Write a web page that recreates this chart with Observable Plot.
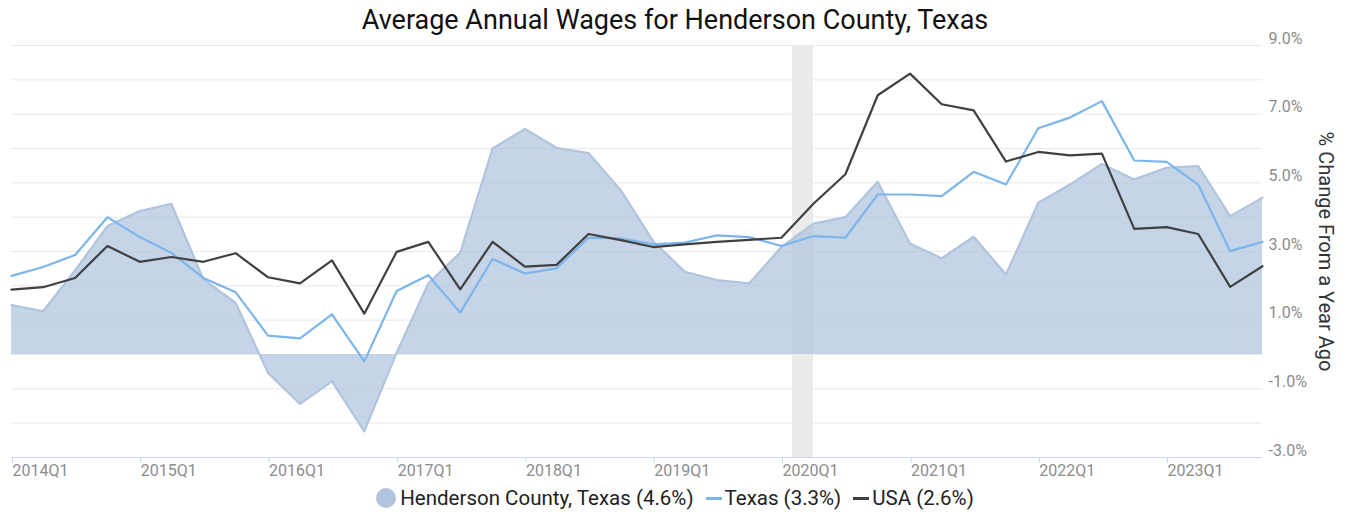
<!DOCTYPE html>
<html>
<head>
<meta charset="utf-8">
<script src="https://cdn.jsdelivr.net/npm/d3@7"></script>
<script src="https://cdn.jsdelivr.net/npm/@observablehq/plot@0.6"></script>
<style>
  html, body { margin: 0; padding: 0; background: #fff; }
  body { width: 1350px; height: 516px; overflow: hidden; font-family: Roboto, "Noto Sans", sans-serif; }
  #title { height: 40px; line-height: 40px; text-align: center; font-size: 27px; color: #111; }
  #chart { height: 440px; }
  #legend { height: 36px; display: flex; justify-content: center; align-items: center; font-size: 20.5px; color: #222; }
  .item { display: flex; align-items: center; margin: 0 6px; }
  .dot { width: 20px; height: 20px; border-radius: 50%; margin-right: 4px; }
  .ln { width: 16px; height: 3px; margin-right: 3px; }
</style>
</head>
<body>
<div id="title">Average Annual Wages for Henderson County, Texas</div>
<div id="chart"></div>
<div id="legend"></div>
<script>
// ---- data ----
const quarters = [
  "2014Q1","2014Q2","2014Q3","2014Q4","2015Q1","2015Q2","2015Q3","2015Q4",
  "2016Q1","2016Q2","2016Q3","2016Q4","2017Q1","2017Q2","2017Q3","2017Q4",
  "2018Q1","2018Q2","2018Q3","2018Q4","2019Q1","2019Q2","2019Q3","2019Q4",
  "2020Q1","2020Q2","2020Q3","2020Q4","2021Q1","2021Q2","2021Q3","2021Q4",
  "2022Q1","2022Q2","2022Q3","2022Q4","2023Q1","2023Q2","2023Q3","2023Q4"
];
const henderson = [
  1.44, 1.26, 2.45, 3.74, 4.18, 4.39, 2.19, 1.50,
  -0.54, -1.44, -0.78, -2.24, 0.05, 2.07, 2.97, 6.00,
  6.57, 6.02, 5.87, 4.78, 3.30, 2.41, 2.17, 2.07,
  3.13, 3.81, 4.00, 5.03, 3.23, 2.80, 3.43, 2.33,
  4.42, 4.95, 5.55, 5.10, 5.44, 5.49, 4.03, 4.57
];
const texas = [
  2.29, 2.55, 2.90, 4.00, 3.42, 2.96, 2.23, 1.81,
  0.55, 0.47, 1.17, -0.20, 1.85, 2.31, 1.22, 2.78,
  2.36, 2.51, 3.40, 3.38, 3.21, 3.26, 3.47, 3.42,
  3.16, 3.45, 3.40, 4.66, 4.66, 4.61, 5.32, 4.95,
  6.59, 6.90, 7.38, 5.65, 5.61, 4.95, 3.01, 3.28
];
const usa = [
  1.89, 1.96, 2.23, 3.16, 2.70, 2.84, 2.70, 2.95,
  2.25, 2.07, 2.74, 1.19, 2.99, 3.28, 1.90, 3.28,
  2.56, 2.61, 3.51, 3.33, 3.13, 3.21, 3.28, 3.34,
  3.40, 4.39, 5.25, 7.55, 8.18, 7.29, 7.11, 5.62,
  5.90, 5.80, 5.85, 3.66, 3.71, 3.51, 1.97, 2.57
];
const xTickLabels = ["2014Q1","2015Q1","2016Q1","2017Q1","2018Q1","2019Q1","2020Q1","2021Q1","2022Q1","2023Q1"];
const yTickValues = [-3, -1, 1, 3, 5, 7, 9];
const yGridValues = [-2, -1, 0, 1, 2, 3, 4, 5, 6, 7, 8, 9];
const recessions = [{start: "2020-02-01", end: "2020-04-01"}];
const seriesNames = ["Henderson County, Texas", "Texas", "USA"];
const seriesColors = ["#b0c4de", "#7cb5ec", "#404040"];
const yAxisTitle = "% Change From a Year Ago";

// ---- build ----
const qDate = q => new Date(Date.UTC(+q.slice(0, 4), (+q.slice(5) - 1) * 3, 1));
const rows = quarters.map((q, i) => ({date: qDate(q), henderson: henderson[i], texas: texas[i], usa: usa[i]}));
const recRows = recessions.map(r => ({start: new Date(r.start + "T00:00:00Z"), end: new Date(r.end + "T00:00:00Z")}));
const fmtQ = d => d.getUTCFullYear() + "Q" + (Math.floor(d.getUTCMonth() / 3) + 1);

const chart = Plot.plot({
  width: 1350,
  height: 440,
  marginLeft: 11,
  marginRight: 88,
  marginTop: 5,
  marginBottom: 23,
  style: {fontFamily: "Roboto, 'Noto Sans', sans-serif", fontSize: "16px", background: "#fff", overflow: "visible"},
  x: {type: "utc", domain: [qDate(quarters[0]), qDate(quarters[quarters.length - 1])]},
  y: {domain: [yTickValues[0], yTickValues[yTickValues.length - 1]]},
  marks: [
    Plot.gridY(yGridValues, {stroke: "#e9e9e9", strokeOpacity: 1}),
    Plot.rect(recRows, {x1: "start", x2: "end", y1: () => yTickValues[0], y2: () => yTickValues[yTickValues.length - 1], fill: "#ebebeb"}),
    Plot.areaY(rows, {x: "date", y: "henderson", fill: seriesColors[0], fillOpacity: 0.72}),
    Plot.lineY(rows, {x: "date", y: "henderson", stroke: seriesColors[0], strokeWidth: 2.2}),
    Plot.lineY(rows, {x: "date", y: "texas", stroke: seriesColors[1], strokeWidth: 2.2}),
    Plot.lineY(rows, {x: "date", y: "usa", stroke: seriesColors[2], strokeWidth: 2.2}),
    Plot.ruleY([yTickValues[0]], {stroke: "#ccd6eb"}),
    Plot.axisX(xTickLabels.map(qDate), {tickSize: 6, tickPadding: 1, stroke: "#ccd6eb", fill: "#8c8c8c", textAnchor: "start", dx: 1, tickFormat: fmtQ, fontSize: 16, label: null}),
    Plot.axisY(yTickValues, {anchor: "right", tickSize: 0, tickPadding: 6, dy: -7, fill: "#8c8c8c", fontSize: 16, tickFormat: d => d.toFixed(1) + "%", label: null}),
    Plot.text([yAxisTitle], {frameAnchor: "right", rotate: 90, dx: 63, textAnchor: "middle", fontSize: 20, fill: "#333"})
  ]
});
document.getElementById("chart").appendChild(chart);

// ---- legend ----
const legend = document.getElementById("legend");
const totals = [henderson, texas, usa].map(a => a[a.length - 1].toFixed(1));
seriesNames.forEach((name, i) => {
  const item = document.createElement("div");
  item.className = "item";
  const m = document.createElement("span");
  m.className = i === 0 ? "dot" : "ln";
  m.style.background = seriesColors[i];
  item.appendChild(m);
  const t = document.createElement("span");
  t.textContent = `${name} (${totals[i]}%)`;
  item.appendChild(t);
  legend.appendChild(item);
});
</script>
</body>
</html>
